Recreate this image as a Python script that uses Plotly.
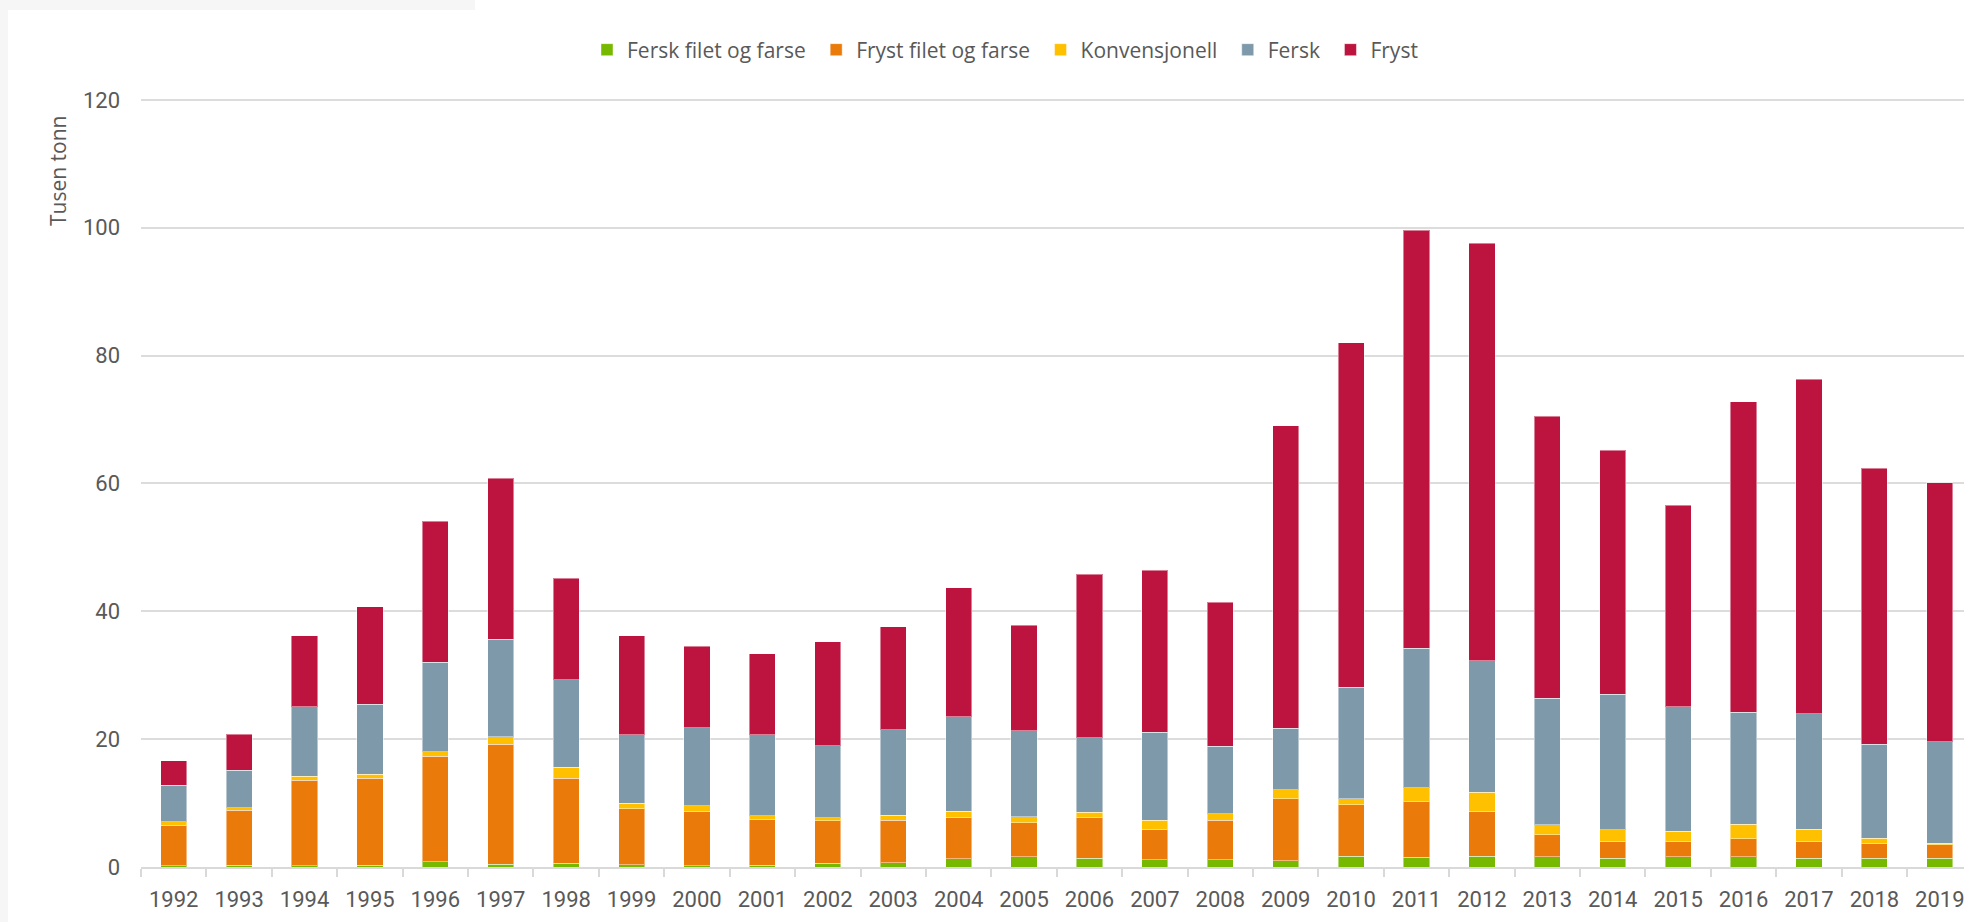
import plotly.graph_objects as go

years = [str(y) for y in range(1992, 2020)]

fersk_filet = [0.2, 0.3, 0.2, 0.3, 0.83, 0.4, 0.6, 0.35, 0.2, 0.25, 0.6, 0.7, 1.3, 1.6,
               1.4, 1.1, 1.1, 0.94, 1.67, 1.5, 1.67, 1.6, 1.35, 1.6, 1.6, 1.4, 1.35, 1.4]
fryst_filet = [6.36, 8.6, 13.4, 13.6, 16.47, 18.8, 13.3, 8.75, 8.5, 7.25, 6.6, 6.6, 6.5, 5.3,
               6.3, 4.8, 6.2, 9.76, 8.03, 8.7, 7.03, 3.45, 2.71, 2.46, 2.8, 2.66, 2.4, 2.1]
konvensjonell = [0.52, 0.4, 0.6, 0.6, 0.7, 1.2, 1.7, 0.85, 0.9, 0.5, 0.5, 0.8, 0.9, 1.0,
                 0.9, 1.4, 1.0, 1.4, 1.0, 2.2, 3.0, 1.55, 1.74, 1.54, 2.3, 1.84, 0.75, 0.2]
fersk = [5.68, 5.8, 10.85, 11.0, 14.0, 15.2, 13.7, 10.75, 12.2, 12.7, 11.3, 13.4, 14.8, 13.4,
         11.6, 13.8, 10.6, 9.6, 17.4, 21.8, 20.6, 19.8, 21.2, 19.5, 17.5, 18.1, 14.7, 15.9]
fryst = [3.84, 5.7, 11.15, 15.2, 22.1, 25.2, 15.9, 15.5, 12.7, 12.7, 16.2, 16.1, 20.2, 16.5,
         25.6, 25.3, 22.5, 47.3, 53.9, 65.45, 65.3, 44.1, 38.2, 31.5, 48.6, 52.3, 43.2, 40.5]

series_names = ["Fersk filet og farse", "Fryst filet og farse", "Konvensjonell", "Fersk", "Fryst"]
series_values = [fersk_filet, fryst_filet, konvensjonell, fersk, fryst]
series_colors = ["#76B900", "#EA7A09", "#FFC000", "#7E9AAA", "#BC143E"]

y_ticks = [0, 20, 40, 60, 80, 100, 120]

W, H = 1964, 922
L, T, B = 141, 98, 55
PW = W - L
PH = H - T - B
Y_TOP = 120.3
PAD = "\u00a0"

fig = go.Figure()
for i, (name, vals, col) in enumerate(zip(series_names, series_values, series_colors)):
    label = name + (PAD if i < len(series_names) - 1 else "")
    fig.add_trace(go.Bar(
        x=years, y=vals, name=label,
        marker=dict(color=col, line=dict(color="rgba(255,255,255,0.45)", width=1)),
    ))

def px_x(p):
    return (p - L) / PW

def px_y(p):
    return (H - B - p) / PH

fig.update_layout(
    width=W, height=H,
    barmode="stack", bargap=0.6,
    paper_bgcolor="white", plot_bgcolor="white",
    margin=dict(l=L, r=0, t=T, b=B, autoexpand=False),
    font=dict(family="Roboto, sans-serif", color="#595959"),
    showlegend=True,
    legend=dict(
        orientation="h", traceorder="normal",
        xref="container", yref="container",
        x=587 / W, xanchor="left",
        y=1 - 50 / H, yanchor="middle",
        font=dict(family="Open Sans, sans-serif", size=21, color="#595959"),
        itemwidth=30, bgcolor="rgba(0,0,0,0)",
    ),
    xaxis=dict(
        type="category", range=[-0.5, 27.37],
        showgrid=False, showline=True, linecolor="#D9D9D9", linewidth=2,
        ticks="outside", tickson="boundaries", ticklen=8, tickcolor="#D9D9D9", tickwidth=2,
        ticklabelstandoff=12,
        tickfont=dict(family="Roboto, sans-serif", size=22, color="#595959"),
        fixedrange=True,
    ),
    yaxis=dict(
        range=[0, Y_TOP], tickvals=y_ticks, ticktext=[str(v) for v in y_ticks],
        showgrid=True, gridcolor="#DCDCDC", gridwidth=2,
        zeroline=False, showline=False, ticks="",
        ticklabelstandoff=20,
        tickfont=dict(family="Roboto, sans-serif", size=22, color="#595959"),
        fixedrange=True,
    ),
    annotations=[dict(
        text="Tusen tonn", textangle=-90,
        xref="paper", yref="paper", x=px_x(58), y=px_y(171),
        xanchor="center", yanchor="middle", showarrow=False,
        font=dict(family="Open Sans, sans-serif", size=21, color="#595959"),
    )],
    shapes=[
        dict(type="rect", xref="paper", yref="paper", layer="below",
             x0=px_x(0), x1=px_x(8), y0=px_y(H), y1=px_y(0),
             fillcolor="#F6F6F6", line=dict(width=0)),
        dict(type="rect", xref="paper", yref="paper", layer="below",
             x0=px_x(0), x1=px_x(475), y0=px_y(10), y1=px_y(0),
             fillcolor="#F6F6F6", line=dict(width=0)),
    ],
)

fig.write_html(
    "out.html",
    config={"displayModeBar": False},
    post_script="document.body.style.margin='0';document.body.style.overflow='hidden';",
)
